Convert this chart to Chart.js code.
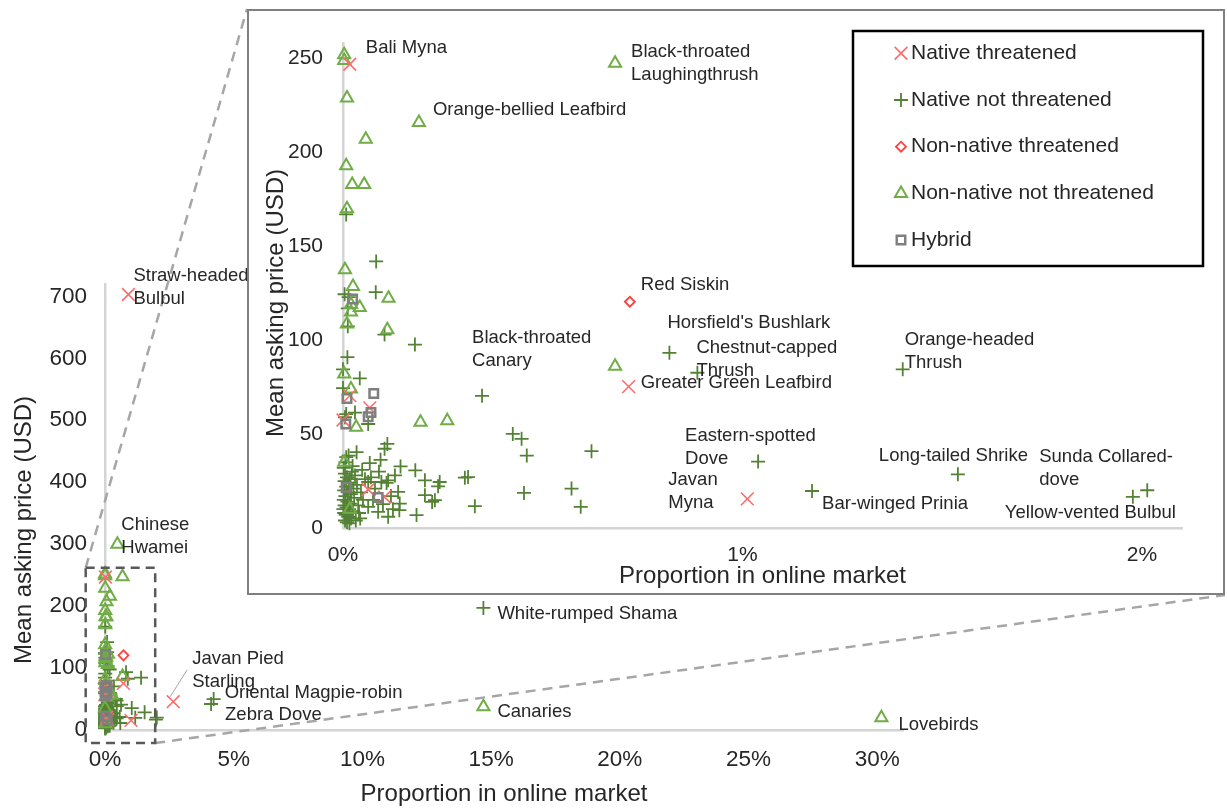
<!DOCTYPE html>
<html>
<head>
<meta charset="utf-8">
<title>Online bird market: price vs market share</title>
<script src="https://cdn.jsdelivr.net/npm/chart.js@4.4.1/dist/chart.umd.min.js"></script>
<style>
  html, body { margin: 0; padding: 0; background: #fff; }
  #wrap { position: relative; width: 1227px; height: 809px; overflow: hidden; background: #fff; }
  #outer { position: absolute; left: 0; top: 0; }
  #insetBox { position: absolute; left: 247px; top: 9px; width: 974px; height: 582px;
              border: 2px solid #7f7f7f; background: #fff; }
  #inset { display: block; }
</style>
</head>
<body>
<div id="wrap">
  <canvas id="outer" width="1227" height="809"></canvas>
  <div id="insetBox"><canvas id="inset" width="974" height="582"></canvas></div>
</div>
<script>
// Proportion of online listings (%) vs mean asking price (USD), one entry per species.
const seriesNames = ['Native threatened', 'Native not threatened', 'Non-native threatened',
                     'Non-native not threatened', 'Hybrid'];

const nativeThreatened = [
  [0.91, 703],   // Straw-headed Bulbul
  [2.65, 45.7],  // Javan Pied Starling
  [0.017, 247],  // Bali Myna
  [0.715, 75.3], // Greater Green Leafbird
  [1.012, 15.5], // Javan Myna
  [0.017, 70.5], [0.067, 64], [0.0, 57.5], [0.104, 16.5], [0.063, 20.5]
];

const nativeNotThreatened = [
  [14.7, 197],   // White-rumped Shama
  [4.22, 50],    // Oriental Magpie-robin
  [4.12, 42],    // Zebra Dove
  [0.817, 93.3], // Horsfield's Bushlark
  [0.887, 82.7], // Chestnut-capped Thrush
  [1.401, 84.5], // Orange-headed Thrush
  [1.039, 35.4], // Eastern-spotted Dove
  [1.174, 19.7], // Bar-winged Prinia
  [1.539, 28.6], // Long-tailed Shrike
  [1.977, 16.6], // Yellow-vented Bulbul
  [2.013, 20.1], // Sunda Collared-dove
  [0.008, 167], [0.083, 142], [0.004, 124.5], [0.014, 123], [0.082, 125.6], [0.012, 117],
  [0.012, 107.4], [0.104, 103], [0.18, 97.7], [0.011, 91], [0.0, 84.5], [0.042, 79.7],
  [0.0, 74.5], [0.008, 60.7], [0.005, 59], [0.03, 61.5], [0.063, 55.4], [0.348, 70.4],
  [0.111, 44.8], [0.104, 42.2], [0.034, 40.4], [0.014, 38.6], [0.094, 36.3], [0.067, 34.6],
  [0.144, 32.8], [0.181, 30.7], [0.205, 25.4], [0.242, 24.5], [0.238, 22.2], [0.313, 27.1],
  [0.305, 26.8], [0.205, 17.5], [0.23, 14.8], [0.223, 13.9], [0.33, 11.6], [0.184, 6.9],
  [0.138, 19.2], [0.142, 13], [0.113, 25.4], [0.096, 24.5], [0.113, 6], [0.088, 8.6],
  [0.425, 50.1], [0.447, 47.5], [0.46, 38.6], [0.622, 40.9], [0.453, 18.7], [0.572, 21],
  [0.595, 11.3], [0.008, 37.7], [0.141, 9.5], [0.1, 12.7], [0.043, 5.1], [0.063, 24.5],
  [0.063, 11.3], [0.109, 24],
  [0.002, 32], [0.005, 29], [0.010, 27], [0.004, 25], [0.015, 24], [0.008, 22], [0.003, 20],
  [0.012, 19], [0.020, 18], [0.006, 17], [0.002, 15], [0.011, 14], [0.018, 13], [0.004, 12],
  [0.009, 11], [0.015, 10], [0.025, 9], [0.003, 8], [0.007, 7], [0.013, 6], [0.020, 5],
  [0.005, 4], [0.010, 3], [0.016, 2.5], [0.030, 28], [0.035, 23], [0.028, 16], [0.038, 12],
  [0.045, 19], [0.040, 8], [0.032, 4], [0.050, 15], [0.022, 30], [0.017, 26], [0.026, 21],
  [0.001, 10], [0.006, 35], [0.024, 33], [0.055, 26], [0.048, 31], [0.07, 27], [0.075, 15],
  [0.08, 21], [0.12, 17], [0.125, 10], [0.09, 30], [0.13, 28]
];

const nonNativeThreatened = [
  [0.718, 120.5] // Red Siskin
];

const nonNativeNotThreatened = [
  [0.48, 300],    // Chinese Hwamei
  [14.7, 37.6],   // Canaries
  [30.16, 19.9],  // Lovebirds
  [0.681, 247.6], // Black-throated Laughingthrush
  [0.19, 216],    // Orange-bellied Leafbird
  [0.681, 86.2],  // Black-throated Canary
  [0.003, 252], [0.003, 249], [0.01, 229], [0.057, 207], [0.008, 193], [0.023, 183],
  [0.053, 183], [0.01, 170], [0.005, 137.5], [0.025, 128.6], [0.114, 122.4], [0.02, 119],
  [0.042, 117.5], [0.02, 115], [0.01, 108.6], [0.111, 105.6], [0.003, 82], [0.02, 74],
  [0.033, 53.6], [0.194, 56.3], [0.261, 57.1], [0.003, 35], [0.017, 10]
];

const hybrid = [
  [0.024, 122], [0.01, 69], [0.077, 71.6], [0.07, 61.5], [0.063, 59.3], [0.007, 55.4],
  [0.008, 21.7], [0.088, 16.2]
];

const allSeries = [nativeThreatened, nativeNotThreatened, nonNativeThreatened,
                   nonNativeNotThreatened, hybrid];

const outerXTicks = [0, 5, 10, 15, 20, 25, 30];
const outerYTicks = [0, 100, 200, 300, 400, 500, 600, 700];
const insetXTicks = [0, 1, 2];
const insetYTicks = [0, 50, 100, 150, 200, 250];

// ---- appearance ----
const FAMILY = '"Liberation Sans", Arial, Helvetica, sans-serif';
const TEXT = '#262626';
const AXIS = '#d4d4d4';
const seriesStyles = [
  { pointStyle: 'crossRot', radius: 9, color: '#ff6b6b', width: 1.6, order: 3 },
  { pointStyle: 'cross',    radius: 7, color: '#548235', width: 1.8, order: 5 },
  { pointStyle: 'rectRot',  radius: 5, color: '#ff4040', width: 1.8, order: 2 },
  { pointStyle: 'triangle', radius: 7, color: '#70ad47', width: 2.0, order: 4 },
  { pointStyle: 'rect',     radius: 6, color: '#7f7f7f', width: 2.5, order: 1 }
];

function makeDatasets() {
  return allSeries.map((pts, k) => ({
    label: seriesNames[k],
    data: pts.map(([x, y]) => ({ x, y })),
    showLine: false,
    clip: false,
    order: seriesStyles[k].order,
    pointStyle: seriesStyles[k].pointStyle,
    pointRadius: seriesStyles[k].radius,
    pointBorderColor: seriesStyles[k].color,
    pointBackgroundColor: 'rgba(0,0,0,0)',
    pointBorderWidth: seriesStyles[k].width
  }));
}

// Species names written next to their markers (offsets in px from the marker).
const LINE_GAP = 23;
const outerLabels = [
  { s: 0, i: 0, lines: ['Straw-headed', 'Bulbul'], dx: 5, dy: -19 },
  { s: 3, i: 0, lines: ['Chinese', 'Hwamei'], dx: 4, dy: -19 },
  { s: 0, i: 1, lines: ['Javan Pied', 'Starling'], dx: 19, dy: -43, leader: [-3, -5, 14, -32] },
  { s: 1, i: 1, lines: ['Oriental Magpie-robin'], dx: 11, dy: -6 },
  { s: 1, i: 2, lines: ['Zebra Dove'], dx: 14, dy: 11 },
  { s: 1, i: 0, lines: ['White-rumped Shama'], dx: 14, dy: 6 },
  { s: 3, i: 1, lines: ['Canaries'], dx: 14, dy: 5 },
  { s: 3, i: 2, lines: ['Lovebirds'], dx: 17, dy: 7 }
];
const insetLabels = [
  { s: 0, i: 2, lines: ['Bali Myna'], dx: 16, dy: -16 },
  { s: 3, i: 3, lines: ['Black-throated', 'Laughingthrush'], dx: 16, dy: -11 },
  { s: 3, i: 4, lines: ['Orange-bellied Leafbird'], dx: 14, dy: -13 },
  { s: 2, i: 0, lines: ['Red Siskin'], dx: 11, dy: -17 },
  { s: 1, i: 3, lines: ["Horsfield's Bushlark"], dx: -2, dy: -30 },
  { s: 3, i: 5, lines: ['Black-throated', 'Canary'], dx: -143, dy: -28 },
  { s: 1, i: 4, lines: ['Chestnut-capped', 'Thrush'], dx: -1, dy: -25 },
  { s: 0, i: 3, lines: ['Greater Green Leafbird'], dx: 12, dy: -4 },
  { s: 1, i: 5, lines: ['Orange-headed', 'Thrush'], dx: 2, dy: -29 },
  { s: 1, i: 6, lines: ['Eastern-spotted', 'Dove'], dx: -73, dy: -26 },
  { s: 0, i: 4, lines: ['Javan', 'Myna'], dx: -79, dy: -19 },
  { s: 1, i: 8, lines: ['Long-tailed Shrike'], dx: -79, dy: -18 },
  { s: 1, i: 7, lines: ['Bar-winged Prinia'], dx: 10, dy: 13 },
  { s: 1, i: 10, lines: ['Sunda Collared-', 'dove'], dx: -108, dy: -33 },
  { s: 1, i: 9, lines: ['Yellow-vented Bulbul'], dx: -128, dy: 16 }
];

function drawLabels(chart, list) {
  const { ctx, scales: { x, y } } = chart;
  ctx.save();
  ctx.font = '18.5px ' + FAMILY;
  ctx.fillStyle = TEXT;
  ctx.textAlign = 'left';
  ctx.textBaseline = 'middle';
  list.forEach(l => {
    const [vx, vy] = allSeries[l.s][l.i];
    const px = x.getPixelForValue(vx);
    const py = y.getPixelForValue(vy);
    if (l.leader) {
      ctx.save();
      ctx.strokeStyle = '#a6a6a6';
      ctx.lineWidth = 1;
      ctx.beginPath();
      ctx.moveTo(px + l.leader[0], py + l.leader[1]);
      ctx.lineTo(px + l.leader[2], py + l.leader[3]);
      ctx.stroke();
      ctx.restore();
    }
    l.lines.forEach((t, j) => ctx.fillText(t, px + l.dx, py + l.dy + j * LINE_GAP));
  });
  ctx.restore();
}

function drawYTitle(ctx, text, cx, cy) {
  ctx.save();
  ctx.translate(cx, cy);
  ctx.rotate(-Math.PI / 2);
  ctx.font = '24px ' + FAMILY;
  ctx.fillStyle = TEXT;
  ctx.textAlign = 'center';
  ctx.textBaseline = 'middle';
  ctx.fillText(text, 0, 0);
  ctx.restore();
}

function drawMarker(ctx, st, x, y) {
  const r = st.radius;
  ctx.save();
  ctx.strokeStyle = st.color;
  ctx.lineWidth = st.width;
  ctx.beginPath();
  if (st.pointStyle === 'crossRot') {
    const d = r * Math.SQRT1_2;
    ctx.moveTo(x - d, y - d); ctx.lineTo(x + d, y + d);
    ctx.moveTo(x + d, y - d); ctx.lineTo(x - d, y + d);
  } else if (st.pointStyle === 'cross') {
    ctx.moveTo(x - r, y); ctx.lineTo(x + r, y);
    ctx.moveTo(x, y - r); ctx.lineTo(x, y + r);
  } else if (st.pointStyle === 'rectRot') {
    ctx.moveTo(x - r, y); ctx.lineTo(x, y - r); ctx.lineTo(x + r, y); ctx.lineTo(x, y + r);
    ctx.closePath();
  } else if (st.pointStyle === 'triangle') {
    ctx.moveTo(x, y - r);
    ctx.lineTo(x + r * Math.sin(2 * Math.PI / 3), y - r * Math.cos(2 * Math.PI / 3));
    ctx.lineTo(x + r * Math.sin(4 * Math.PI / 3), y - r * Math.cos(4 * Math.PI / 3));
    ctx.closePath();
  } else {
    const h = r * Math.SQRT1_2;
    ctx.rect(x - h, y - h, 2 * h, 2 * h);
  }
  ctx.stroke();
  ctx.restore();
}

function axisOptions(o) {
  return {
    type: 'linear',
    min: o.min,
    max: o.max,
    afterFit: o.afterFit,
    afterBuildTicks: s => { s.ticks = o.ticks.map(v => ({ value: v })); },
    grid: { display: false, drawTicks: false },
    border: { display: true, color: AXIS, width: 2.5 },
    ticks: {
      padding: o.pad,
      color: TEXT,
      font: { family: FAMILY, size: o.fontSize },
      maxRotation: 0,
      autoSkip: false,
      callback: o.fmt
    },
    title: o.title
      ? { display: true, text: o.title, color: TEXT, font: { family: FAMILY, size: 24 },
          padding: { top: 0, bottom: o.titlePad } }
      : { display: false }
  };
}

// ---- full-range chart ----
const zoomWindow = { xMin: -0.75, xMax: 1.95, yMin: -21, yMax: 262 };

const outerOverlay = {
  id: 'outerOverlay',
  afterDraw(chart) {
    const { ctx, scales: { x, y } } = chart;
    const l = x.getPixelForValue(zoomWindow.xMin), r = x.getPixelForValue(zoomWindow.xMax);
    const t = y.getPixelForValue(zoomWindow.yMax), b = y.getPixelForValue(zoomWindow.yMin);
    const box = document.getElementById('insetBox');
    const bl = box.offsetLeft, bt = box.offsetTop;
    const br = bl + box.offsetWidth, bb = bt + box.offsetHeight;
    ctx.save();
    // connector lines towards the enlarged view
    ctx.strokeStyle = '#a6a6a6';
    ctx.lineWidth = 2.5;
    ctx.setLineDash([10, 7]);
    ctx.beginPath();
    ctx.moveTo(l, t); ctx.lineTo(bl, bt);
    ctx.moveTo(r, b); ctx.lineTo(br, bb);
    ctx.stroke();
    // frame around the enlarged region
    ctx.strokeStyle = '#595959';
    ctx.setLineDash([9, 6]);
    ctx.strokeRect(l, t, r - l, b - t);
    ctx.restore();
    drawLabels(chart, outerLabels);
    drawYTitle(ctx, 'Mean asking price (USD)', 24, 530);
  }
};

new Chart(document.getElementById('outer'), {
  type: 'scatter',
  data: { datasets: makeDatasets() },
  options: {
    responsive: false, animation: false, devicePixelRatio: 1, events: [],
    layout: { padding: { left: 0, top: 284, right: 324, bottom: 0 } },
    plugins: { legend: { display: false }, tooltip: { enabled: false } },
    scales: {
      x: axisOptions({ min: 0, max: 31, ticks: outerXTicks, pad: 16.5, fontSize: 22.5,
                       fmt: v => v + '%', afterFit: s => { s.height = 79; },
                       title: 'Proportion in online market', titlePad: 0 }),
      y: axisOptions({ min: 0, max: 720, ticks: outerYTicks, pad: 18, fontSize: 22.5,
                       fmt: v => String(v), afterFit: s => { s.width = 105; } })
    }
  },
  plugins: [outerOverlay]
});

// ---- enlarged view of the low-share region ----
const legendBox = { left: 604, top: 20, width: 350, height: 235, firstRow: 22.3, rowGap: 46.7,
                    markerX: 48, textX: 58 };

const insetOverlay = {
  id: 'insetOverlay',
  afterDraw(chart) {
    const { ctx } = chart;
    drawLabels(chart, insetLabels);
    drawYTitle(ctx, 'Mean asking price (USD)', 27, 292);
    // legend
    ctx.save();
    ctx.strokeStyle = '#000';
    ctx.lineWidth = 2.5;
    ctx.strokeRect(legendBox.left, legendBox.top, legendBox.width, legendBox.height);
    ctx.font = '21px ' + FAMILY;
    ctx.fillStyle = TEXT;
    ctx.textAlign = 'left';
    ctx.textBaseline = 'middle';
    seriesNames.forEach((name, k) => {
      const yy = legendBox.top + legendBox.firstRow + k * legendBox.rowGap;
      drawMarker(ctx, seriesStyles[k], legendBox.left + legendBox.markerX, yy);
      ctx.fillText(name, legendBox.left + legendBox.textX, yy);
    });
    ctx.restore();
  }
};

new Chart(document.getElementById('inset'), {
  type: 'scatter',
  data: { datasets: makeDatasets() },
  options: {
    responsive: false, animation: false, devicePixelRatio: 1, events: [],
    layout: { padding: { left: 0, top: 29, right: 41, bottom: 0 } },
    plugins: { legend: { display: false }, tooltip: { enabled: false } },
    scales: {
      x: axisOptions({ min: 0, max: 2.1, ticks: insetXTicks, pad: 14.4, fontSize: 21,
                       fmt: v => v + '%', afterFit: s => { s.height = 65; },
                       title: 'Proportion in online market', titlePad: 2 }),
      y: axisOptions({ min: 0, max: 258, ticks: insetYTicks, pad: 20, fontSize: 21,
                       fmt: v => String(v), afterFit: s => { s.width = 94; } })
    }
  },
  plugins: [insetOverlay]
});
</script>
</body>
</html>
